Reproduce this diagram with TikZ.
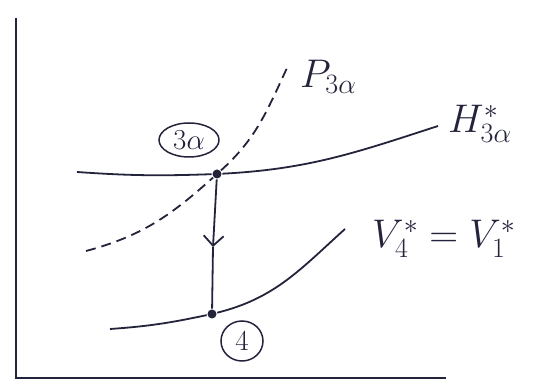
\documentclass[tikz,border=0pt]{standalone}
\usepackage{fix-cm}
\usetikzlibrary{arrows.meta}
\usetikzlibrary{shapes.geometric}
\usetikzlibrary{positioning}
\definecolor{ink}{RGB}{35,35,60}

\begin{document}
\begin{tikzpicture}[x=1pt, y=1pt, line width=1.8pt, draw=ink, text=ink,
    dot/.style={circle, fill=ink, inner sep=0pt, minimum size=9pt},
    ring/.style={ellipse, draw=ink, line width=1.5pt, inner sep=0pt, font=\fontsize{29}{33}\selectfont},
    lbl/.style={font=\fontsize{40}{44}\selectfont}]

        \useasboundingbox (0,0) rectangle (549,382);

        % Axes
        \coordinate (top) at (16,364);
        \coordinate (origin) at (16,4);
        \coordinate (right) at (446,4);
        \draw (top) -- (origin) -- (right);

        % The two states
        \node[dot] (s3a) at (217,208) {};
        \node[dot] (s4) at (212,68) {};

        % Ends of the curves
        \coordinate (hL) at (77,210);
        \coordinate (hR) at (438,256);
        \coordinate (pL) at (86,131);
        \coordinate (pR) at (287,314);
        \coordinate (vL) at (110,53);
        \coordinate (vR) at (345,153);

        % Constant enthalpy line
        \draw (hL) to[out=-4, in=182] (s3a) to[out=3, in=198] (hR);

        % Constant pressure line
        \draw[dash pattern=on 10pt off 6pt] (pL) to[out=15, in=222] (s3a) to[out=42, in=245] (pR);

        % Constant volume line
        \draw (vL) to[out=4, in=192] (s4) to[out=14, in=222] (vR);

        % Expansion from 3a to 4
        \coordinate (amid) at (213,135);
        \draw[-{Straight Barb[length=10pt, width=20pt]}] (s3a) -- (amid);
        \draw (amid) -- (s4);

        % Labels
        \node[ring, minimum width=60pt, minimum height=34pt] (c3a) at (189,242) {$3\alpha$};
        \node[ring, minimum width=42pt, minimum height=40pt] (c4) at (242,41) {$4$};
        \node[lbl, anchor=west] (lblP) at (296,305) {$P_{3\alpha}$};
        \node[lbl, anchor=west] (lblH) at (444,258) {$H^{*}_{3\alpha}$};
        \node[lbl, anchor=west] (lblV) at (368,143) {$V^{*}_{4} = V_1^{*}$};

\end{tikzpicture}
\end{document}
